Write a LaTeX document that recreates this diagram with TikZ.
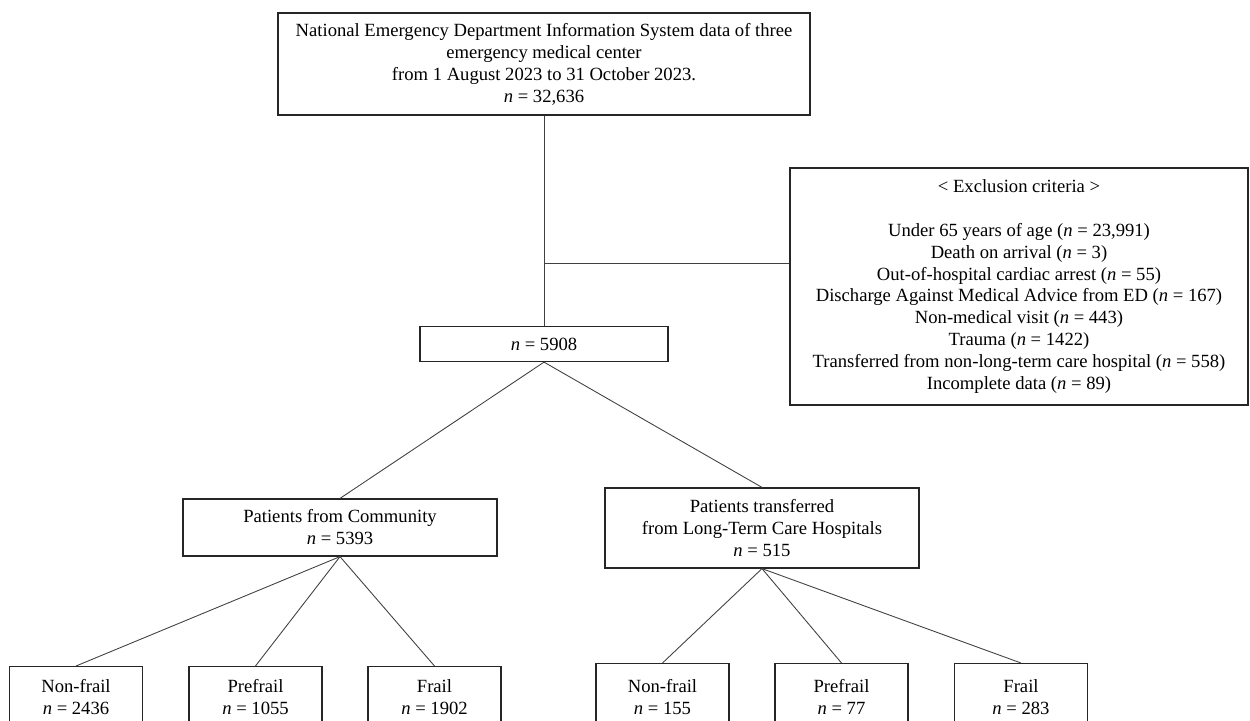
\documentclass[tikz,border=0pt]{standalone}
\usepackage{fontspec}
\setmainfont{Liberation Serif}

\begin{document}
\begin{tikzpicture}
[
    x=0.02cm, y=-0.02cm,
    every node/.style={font=\fontsize{10.6}{12.5}\selectfont, align=center, inner sep=0pt},
    box/.style={draw=black!85, line width=0.7pt, minimum width=#1},
    box/.default=2.66cm,
    link/.style={draw=black!75, line width=0.5pt},
]
\useasboundingbox (0,0) rectangle (1250,720);

% source and exclusions
\node [box=10.64cm, minimum height=2.04cm] (src) at (544,64)
{National Emergency Department Information System data of three\\
emergency medical center\\
from 1 August 2023 to 31 October 2023.\\
\textit{n} = 32,636};
\node [box=9.16cm, minimum height=4.74cm] (excl) at (1019,286.5)
{\textless{} Exclusion criteria \textgreater\\[12.5pt]
Under 65 years of age (\textit{n} = 23,991)\\
Death on arrival (\textit{n} = 3)\\
Out-of-hospital cardiac arrest (\textit{n} = 55)\\
Discharge Against Medical Advice from ED (\textit{n} = 167)\\
Non-medical visit (\textit{n} = 443)\\
Trauma (\textit{n} = 1422)\\
Transferred from non-long-term care hospital (\textit{n} = 558)\\
Incomplete data (\textit{n} = 89)};
\node [box=4.96cm, minimum height=0.7cm] (incl) at (544,344) {\textit{n} = 5908};
\coordinate (cut) at (544,263);

% groups
\node [box=6.28cm, minimum height=1.14cm] (comm) at (340,527.5)
{Patients from Community\\ \textit{n} = 5393};
\node [box=6.28cm, minimum height=1.6cm] (ltch) at (762,528)
{Patients transferred\\ from Long-Term Care Hospitals\\ \textit{n} = 515};

% frailty
\node [box, minimum height=1.22cm, anchor=north] (comm-non) at (76,666) {Non-frail\\ \textit{n} = 2436};
\node [box, minimum height=1.22cm, anchor=north] (comm-pre) at (255.5,666) {Prefrail\\ \textit{n} = 1055};
\node [box, minimum height=1.22cm, anchor=north] (comm-frail) at (434.5,666) {Frail\\ \textit{n} = 1902};
\node [box, minimum height=1.34cm, anchor=north] (ltch-non) at (662.5,663) {Non-frail\\ \textit{n} = 155};
\node [box, minimum height=1.34cm, anchor=north] (ltch-pre) at (841.5,663) {Prefrail\\ \textit{n} = 77};
\node [box, minimum height=1.34cm, anchor=north] (ltch-frail) at (1021,663) {Frail\\ \textit{n} = 283};

\draw [link] (src.south) -- (incl.north);
\draw [link] (cut) -- (cut -| excl.west);
\draw [link] (incl.south) -- (comm.north);
\draw [link] (incl.south) -- (ltch.north);
\foreach \k in {non,pre,frail} {
    \draw [link] (comm.south) -- (comm-\k.north);
    \draw [link] (ltch.south) -- (ltch-\k.north);
}
\end{tikzpicture}
\end{document}
